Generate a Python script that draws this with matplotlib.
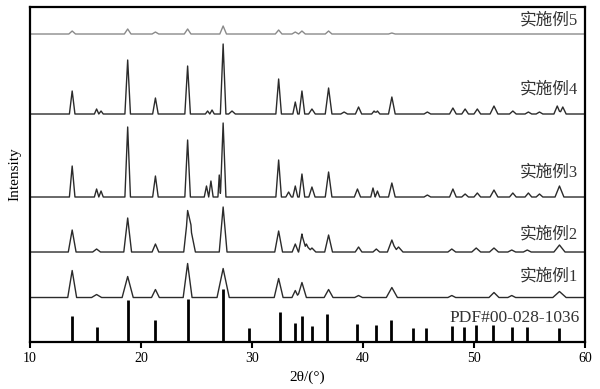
import numpy as np
import matplotlib
matplotlib.use('Agg')
import matplotlib.pyplot as plt

plt.rcParams['font.family'] = ['Liberation Serif', 'Noto Sans CJK SC', 'DejaVu Sans']

# 各样品的峰位 (2θ)、峰高、半宽，以及基线高度（单位与纵轴一致）
pos5 = [13.8, 18.8, 21.3, 24.2, 27.4, 32.4, 33.9, 34.5, 36.9, 42.6]
h5 = [3, 5, 2, 5, 8, 4, 2, 3, 3, 1]
w5 = [0.3] * len(pos5)
base5 = 308

pos4 = [13.8, 16.0, 16.4, 18.8, 21.3, 24.2, 26.0, 26.4, 27.4, 28.2, 32.4, 33.9, 34.5, 35.4,
        36.9, 38.3, 39.6, 41.0, 41.3, 42.6, 45.8, 48.1, 49.2, 50.3, 51.8, 53.5, 54.9, 55.9,
        57.5, 58.0]
h4 = [23, 5, 3, 54, 16, 48, 3, 4, 70, 3, 35, 12, 23, 5,
      26, 2, 7, 3, 3, 17, 2, 6, 5, 5, 8, 3, 2, 2,
      8, 7]
w4 = [0.25, 0.2, 0.2, 0.25, 0.25, 0.25, 0.2, 0.2, 0.25, 0.3, 0.25, 0.22, 0.25, 0.3,
      0.3, 0.3, 0.28, 0.22, 0.22, 0.3, 0.3, 0.3, 0.3, 0.3, 0.35, 0.3, 0.3, 0.3,
      0.3, 0.3]
base4 = 228

pos3 = [13.8, 16.0, 16.4, 18.8, 21.3, 24.2, 25.9, 26.3, 27.05, 27.4, 32.4, 33.3, 33.9, 34.5,
        35.4, 36.9, 39.5, 40.9, 41.3, 42.6, 45.8, 48.1, 49.2, 50.3, 51.8, 53.5, 54.9, 55.9,
        57.7]
h3 = [31, 8, 6, 70, 21, 57, 11, 16, 22, 74, 37, 5, 11, 23,
      10, 25, 8, 9, 6, 14, 2, 8, 3, 4, 7, 4, 4, 3,
      11]
w3 = [0.25, 0.2, 0.2, 0.25, 0.25, 0.25, 0.2, 0.2, 0.12, 0.25, 0.25, 0.25, 0.22, 0.25,
      0.28, 0.3, 0.28, 0.2, 0.2, 0.3, 0.3, 0.3, 0.3, 0.3, 0.35, 0.3, 0.3, 0.3,
      0.4]
base3 = 145

pos2 = [13.8, 16.0, 18.8, 21.3, 24.2, 24.5, 27.4, 32.4, 33.9, 34.5, 34.9, 35.4, 36.9, 39.6,
        41.2, 42.6, 43.2, 48.0, 50.2, 51.8, 53.4, 54.8, 57.7]
h2 = [22, 3, 34, 8, 36, 22, 45, 21, 8, 18, 8, 4, 17, 5,
      3, 12, 5, 3, 4, 4, 2, 2, 7]
w2 = [0.35, 0.35, 0.35, 0.3, 0.35, 0.4, 0.35, 0.35, 0.28, 0.3, 0.35, 0.35, 0.35, 0.3,
      0.3, 0.4, 0.4, 0.35, 0.4, 0.4, 0.35, 0.35, 0.5]
base2 = 90

pos1 = [13.8, 16.0, 18.8, 21.3, 24.2, 27.4, 32.4, 33.9, 34.5, 36.9, 39.6, 42.6, 48.0, 51.8,
        53.4, 57.7]
h1 = [27, 3, 21, 8, 34, 29, 19, 7, 15, 8, 2, 10, 2, 5,
      2, 6]
w1 = [0.4, 0.45, 0.5, 0.35, 0.4, 0.55, 0.4, 0.3, 0.4, 0.4, 0.35, 0.5, 0.35, 0.45,
      0.35, 0.6]
base1 = 44.5

# 标准卡片 PDF#00-028-1036
pdf_pos = [13.8, 16.0, 18.8, 21.3, 24.2, 27.4, 29.7, 32.5, 33.9, 34.5, 35.4, 36.8, 39.5, 41.2,
           42.5, 44.5, 45.7, 48.0, 49.1, 50.2, 51.7, 53.4, 54.8, 57.7]
pdf_h = [26, 15, 42, 22, 43, 53, 14, 30, 19, 26, 16, 28, 18, 17,
         22, 14, 14, 16, 15, 17, 17, 15, 15, 14]

labels = ['实施例5', '实施例4', '实施例3', '实施例2', '实施例1']
label_y = [321, 252, 169, 107, 65]


def pattern(pos, h, w, base):
    # 把每个峰当作三角形，在各折点处叠加
    xs = [10.0, 60.0]
    for p, ww in zip(pos, w):
        xs += [p - ww, p, p + ww]
    xs = np.unique(np.array(xs))
    ys = np.full(xs.shape, float(base))
    for p, hh, ww in zip(pos, h, w):
        ys += np.interp(xs, [p - ww, p, p + ww], [0, hh, 0], left=0, right=0)
    return xs, ys


plt.figure(figsize=(6, 3.89), dpi=100)
ax = plt.axes([0.05, 0.1208, 0.925, 0.8612])

samples = [(pos5, h5, w5, base5, '#8a8a8a'),
           (pos4, h4, w4, base4, '#2b2b2b'),
           (pos3, h3, w3, base3, '#2b2b2b'),
           (pos2, h2, w2, base2, '#2b2b2b'),
           (pos1, h1, w1, base1, '#2b2b2b')]
for pos, h, w, base, c in samples:
    x, y = pattern(pos, h, w, base)
    ax.plot(x, y, color=c, linewidth=1.0)

ax.vlines(pdf_pos, 0, pdf_h, colors='black', linewidth=2)

for lab, ly in zip(labels, label_y):
    ax.text(59.35, ly, lab, ha='right', va='center', fontsize=12, color='#333333')
ax.text(59.55, 24, 'PDF#00-028-1036', ha='right', va='center', fontsize=12.5,
        color='#333333')

ax.set_xlim(10, 60)
ax.set_ylim(0, 335)
ax.set_xticks([10, 20, 30, 40, 50, 60])
ax.set_yticks([])
ax.tick_params(axis='x', direction='out', length=4, width=1.5, labelsize=10)
for s in ax.spines.values():
    s.set_linewidth(1.6)
ax.set_xlabel('2θ/(°)', fontsize=11, labelpad=4)
ax.set_ylabel('Intensity', fontsize=11, labelpad=6)

plt.savefig('out.png', dpi=100)
